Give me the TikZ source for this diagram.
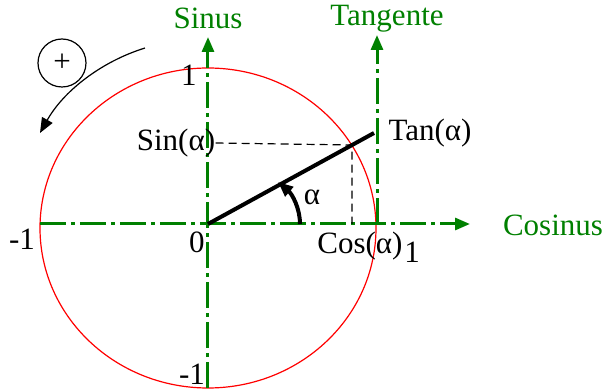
\documentclass[tikz,border=0pt]{standalone}
\usepackage{fontspec}
\setmainfont{Liberation Serif}
\usetikzlibrary{arrows.meta}
\definecolor{axisgreen}{RGB}{0,128,0}

\begin{document}
\begin{tikzpicture}[x=0.5pt,y=0.5pt,
  axis/.style={axisgreen,line width=1.5pt,dash pattern=on 13pt off 2.5pt on 2pt off 2.5pt,-{Triangle[length=7.5pt,width=6pt]}},
  lbl/.style={inner sep=0pt,font=\fontsize{15.5}{18}\selectfont},
  tip/.style={-{Triangle[length=7.5pt,width=6pt]}}]
  \useasboundingbox (-208,-166) rectangle (397,224);
  % unit circle and the axes through its centre
  \draw[red,line width=0.6pt] (0,-4) ellipse [x radius=168,y radius=160];
  \coordinate (O) at (0,0);
  \coordinate (xl) at (-168,0);
  \coordinate (xr) at (262,0);
  \coordinate (yb) at (0,-164);
  \coordinate (yt) at (0,187);
  \coordinate (tb) at (169,0);
  \coordinate (tt) at (169,189);
  \draw[axis] (xl) -- (xr);
  \draw[axis] (yb) -- (yt);
  \draw[axis] (tb) -- (tt);
  \node[lbl,axisgreen] (sinus) at (0,206) {Sinus};
  \node[lbl,axisgreen] (tangente) at (179,205) {Tangente};
  \node[lbl,axisgreen] (cosinus) at (345,-1) {Cosinus};
  % scale marks
  \node[lbl] (one) at (-19,149) {1};
  \node[lbl] (mone) at (-186,-15) {-1};
  \node[lbl] (zero) at (-11,-18) {0};
  \node[lbl] (monebot) at (-16,-150) {-1};
  \node[lbl] (onex) at (204,-28) {1};
  % the angle alpha
  \coordinate (P) at (144,79);
  \coordinate (Pc) at (144,0);
  \coordinate (T) at (166,91);
  \node[lbl] (sin) at (-32,81) {Sin(α)};
  \node[lbl] (tan) at (222,91) {Tan(α)};
  \node[lbl] (cos) at (152,-22) {Cos(α)};
  \node[lbl] (alpha) at (104,27) {α};
  \draw[line width=0.6pt,dash pattern=on 4pt off 2.5pt] (sin.east) -- (P) -- (Pc);
  \draw[line width=2pt] (O) -- (T);
  \coordinate (a0) at (92,0);
  \coordinate (a1) at (70,42);
  \draw[line width=2pt,tip] (a0) .. controls (92,16) and (84,30) .. (a1);
  % sense of rotation
  \node[circle,draw,line width=0.6pt,minimum size=24pt,inner sep=0pt,lbl] (plus) at (-146,161) {+};
  \coordinate (r0) at (-63,176);
  \coordinate (r1) at (-168,91);
  \draw[line width=0.6pt,tip] (r0) .. controls (-108,162) and (-145,132) .. (r1);
\end{tikzpicture}
\end{document}
